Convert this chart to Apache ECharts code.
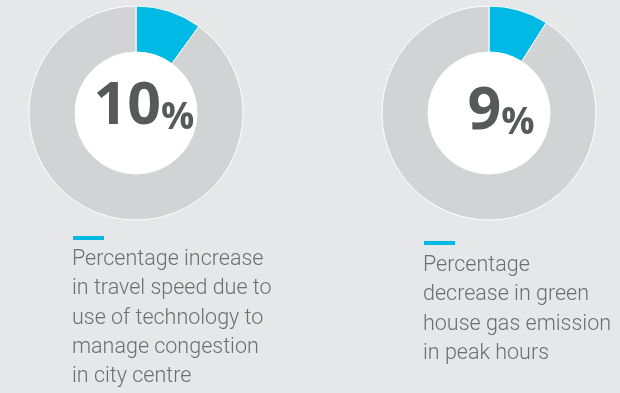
<!DOCTYPE html>
<html>
<head>
<meta charset="utf-8">
<script src="https://cdn.jsdelivr.net/npm/echarts@6/dist/echarts.min.js"></script>
<style>
html,body{margin:0;padding:0;background:#e6e7e8;}
#c{width:620px;height:393px;}
</style>
</head>
<body>
<div id="c"></div>
<script>
// Data
const percentValues = [10, 9];
const numberLabels = ['10', '9'];
const descriptions = [
  ['Percentage increase', 'in travel speed due to', 'use of technology to', 'manage congestion', 'in city centre'],
  ['Percentage', 'decrease in green', 'house gas emission', 'in peak hours']
];

// Layout
const centers = [[136, 113], [489, 113]];
const labelOffsets = [[8, -6], [12, -1]];
const descPos = [[73, 236, 245], [424, 241, 251]];

const cyan = '#00b9e5';
const ringGray = '#d1d3d4';
const numColor = '#58595b';
const textColor = '#6d6e71';

const chart = echarts.init(document.getElementById('c'), null, {renderer: 'canvas'});

const series = [];
percentValues.forEach((v, i) => {
  series.push({
    type: 'pie',
    silent: true,
    center: centers[i],
    radius: [61, 107],
    startAngle: 90,
    clockwise: true,
    label: {show: false},
    labelLine: {show: false},
    itemStyle: {borderColor: '#ffffff', borderWidth: 1},
    data: [
      {value: v, itemStyle: {color: cyan}},
      {value: 100 - v, itemStyle: {color: ringGray}}
    ]
  });
  series.push({
    type: 'pie',
    silent: true,
    center: centers[i],
    radius: [0, 61],
    labelLine: {show: false},
    itemStyle: {color: '#ffffff', borderWidth: 0},
    label: {
      show: true,
      position: 'center',
      offset: labelOffsets[i],
      formatter: () => '{n|' + numberLabels[i] + '}{p|%}',
      rich: {
        n: {fontFamily: 'Open Sans', fontWeight: 'bold', fontSize: 59, color: numColor, verticalAlign: 'bottom', lineHeight: 60},
        p: {fontFamily: 'Open Sans', fontWeight: 'bold', fontSize: 37, color: numColor, verticalAlign: 'bottom', lineHeight: 60}
      }
    },
    data: [{value: 1}]
  });
});

const graphics = [];
descriptions.forEach((lines, i) => {
  const [x, dashY, textTop] = descPos[i];
  graphics.push({
    type: 'rect',
    shape: {x: x, y: dashY, width: 31, height: 4},
    style: {fill: cyan},
    silent: true
  });
  graphics.push({
    type: 'text',
    x: x - 1,
    y: textTop,
    silent: true,
    style: {
      text: lines.join('\n'),
      fontFamily: 'Roboto',
      fontWeight: 300,
      fontSize: 21.5,
      lineHeight: 29.3,
      fill: textColor,
      verticalAlign: 'top'
    }
  });
});

chart.setOption({
  backgroundColor: '#e6e7e8',
  animation: false,
  series: series,
  graphic: graphics
});
</script>
</body>
</html>
